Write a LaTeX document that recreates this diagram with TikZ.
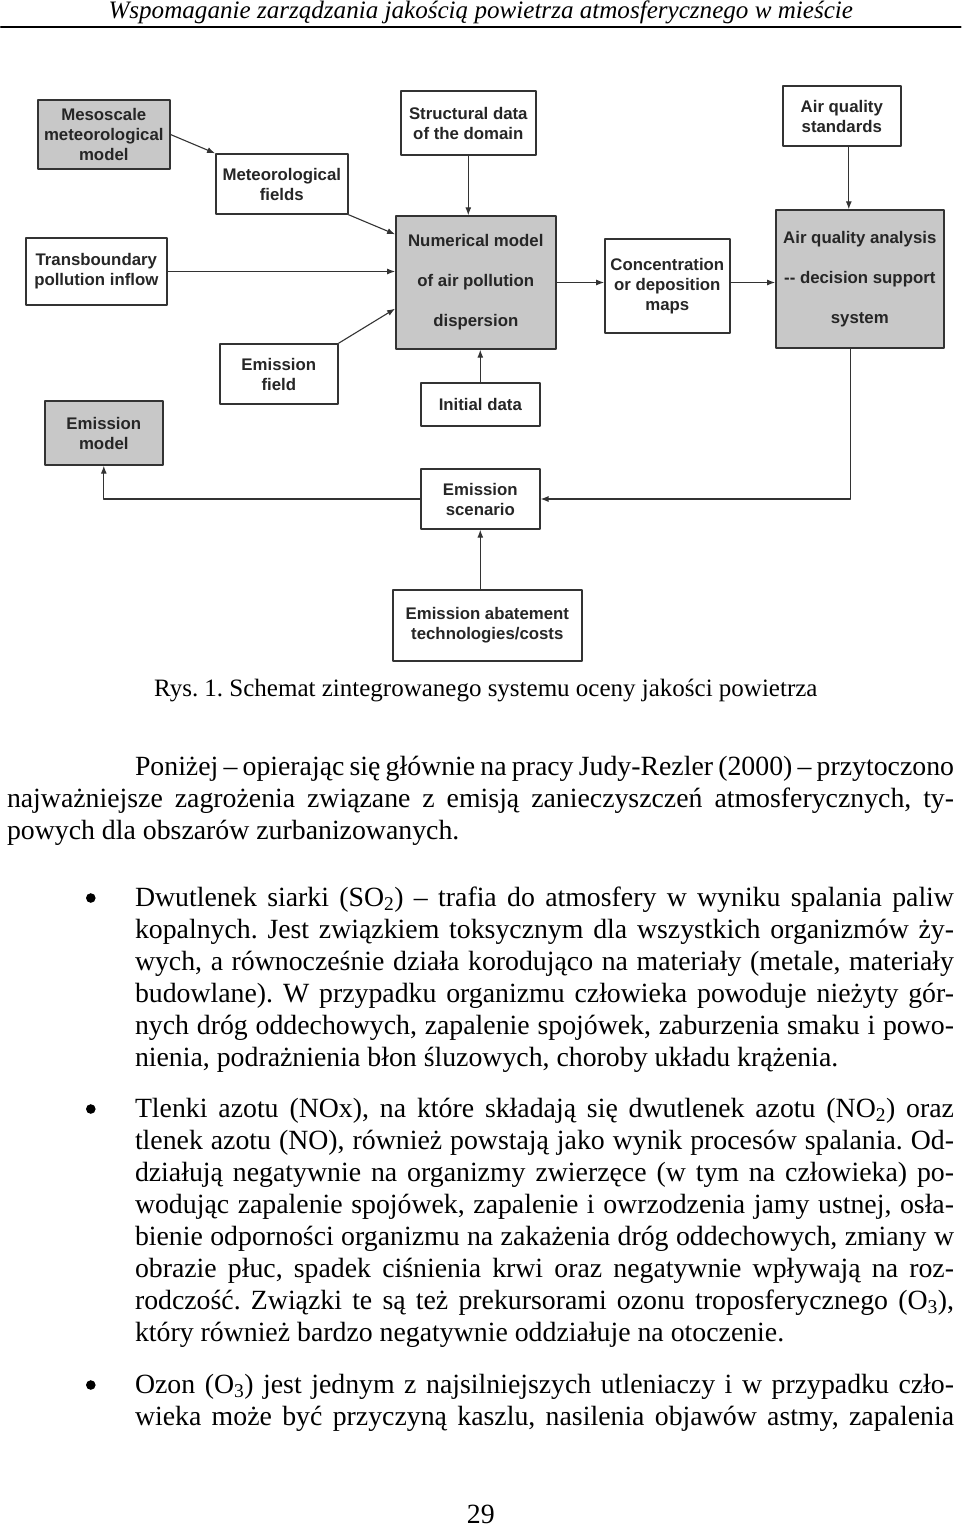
\documentclass[tikz,border=0pt]{standalone}
\usepackage{fontspec}
\setmainfont{Liberation Serif}
\setsansfont{Liberation Sans}
\usetikzlibrary{arrows.meta,calc}
\definecolor{schInk}{HTML}{262626}
\definecolor{schFill}{HTML}{C8C8C8}
\definecolor{schLine}{HTML}{333333}
\frenchspacing
\newcommand\bodyfont{\fontsize{27.8}{32}\selectfont}
\newcommand\jline[2]{\hbox to #1{#2}}

\begin{document}
\begin{tikzpicture}[x=1pt,y=-1pt,>=Latex,line cap=round,line join=round]
\path[fill=white] (0,0) rectangle (960,1528);
\tikzset{box/.style={draw=schLine,line width=1.4pt,fill=white,text=schInk,font=\sffamily\bfseries\fontsize{16.8}{20}\selectfont,align=center,inner sep=0pt},shade/.style={box,fill=schFill},wide/.style={font=\sffamily\bfseries\fontsize{16.8}{40}\selectfont},link/.style={draw=schLine,line width=1.1pt,-{Latex[length=8pt,width=6pt]}},prose/.style={inner sep=0pt,font=\bodyfont,anchor=base west}}
% page head
\node[anchor=base,inner sep=0pt,font=\itshape\fontsize{25.1}{28}\selectfont] (head) at (480,19) {Wspomaganie zarządzania jakością powietrza atmosferycznego w mieście};
\draw[line width=1.6pt] (0,27) -- (960,27);
% scheme boxes
\node[shade,minimum width=132pt,minimum height=69pt] (meso) at (103,134.5) {Mesoscale\\meteorological\\model};
\node[box,minimum width=132pt,minimum height=60pt] (metf) at (281,184) {Meteorological\\fields};
\node[box,minimum width=135pt,minimum height=64pt] (struct) at (467.5,123) {Structural data\\of the domain};
\node[box,minimum width=141pt,minimum height=67pt] (trans) at (95.5,271.5) {Transboundary\\pollution inflow};
\node[shade,wide,minimum width=160pt,minimum height=133pt] (numer) at (475,282.5) {Numerical model\\of air pollution\\dispersion};
\node[box,minimum width=125pt,minimum height=94pt] (conc) at (666.5,286) {Concentration\\or deposition\\maps};
\node[box,minimum width=118pt,minimum height=60pt] (aqstd) at (841,116) {Air quality\\standards};
\node[shade,wide,minimum width=168pt,minimum height=138pt] (aqan) at (859,279) {Air quality analysis\\-{}- decision support\\system};
\node[box,minimum width=118pt,minimum height=60pt] (emf) at (278,374) {Emission\\field};
\node[shade,minimum width=118pt,minimum height=64pt] (emm) at (103,433) {Emission\\model};
\node[box,minimum width=119pt,minimum height=43pt] (init) at (479.5,404.5) {Initial data};
\node[box,minimum width=119pt,minimum height=60pt] (scen) at (479.5,499) {Emission\\scenario};
\node[box,minimum width=189pt,minimum height=71pt] (abat) at (486.5,625.5) {Emission abatement\\technologies/costs};
% links
\draw[link] (meso.east) -- (metf.north west);
\draw[link] (metf.south east) -- ([yshift=-19pt]numer.north west);
\draw[link] (trans.east) -- (trans.east -| numer.west);
\draw[link] (struct.south) -- (struct.south |- numer.north);
\draw[link] (emf.north east) -- ([yshift=41pt]numer.south west);
\draw[link] (init.north) -- (init.north |- numer.south);
\draw[link] (scen.south |- abat.north) -- (scen.south);
\draw[link] (scen.west) -| (emm.south);
\draw[link] ([xshift=-9pt]aqan.south) |- (scen.east);
\draw[link] (numer.east) -- (numer.east -| conc.west);
\draw[link] (numer.east -| conc.east) -- (numer.east -| aqan.west);
\draw[link] ([xshift=7pt]aqstd.south) -- ([xshift=7pt]aqstd.south |- aqan.north);
% caption and text
\node[anchor=base,inner sep=0pt,font=\fontsize{25}{30}\selectfont] (cap) at (485,696) {Rys. 1. Schemat zintegrowanego systemu oceny jakości powietrza};
\node[prose] (p1a) at (134,775) {\jline{819pt}{Poniżej – opierając się głównie na pracy Judy-Rezler (2000) – przytoczono}};
\node[prose] (p1b) at (6,807) {\jline{947pt}{najważniejsze zagrożenia związane z emisją zanieczyszczeń atmosferycznych, ty-}};
\node[prose] (p1c) at (6,839) {powych dla obszarów zurbanizowanych.};
% bullet one
\fill (90,898) circle (4.8pt);
\node[prose] (b1a) at (134,906) {\jline{819pt}{Dwutlenek siarki (SO\textsubscript{2}) – trafia do atmosfery w wyniku spalania paliw}};
\node[prose] (b1b) at (134,938) {\jline{819pt}{kopalnych. Jest związkiem toksycznym dla wszystkich organizmów ży-}};
\node[prose] (b1c) at (134,970) {\jline{819pt}{wych, a równocześnie działa korodująco na materiały (metale, materiały}};
\node[prose] (b1d) at (134,1002) {\jline{819pt}{budowlane). W przypadku organizmu człowieka powoduje nieżyty gór-}};
\node[prose] (b1e) at (134,1034) {\jline{819pt}{nych dróg oddechowych, zapalenie spojówek, zaburzenia smaku i powo-}};
\node[prose] (b1f) at (134,1066) {nienia, podrażnienia błon śluzowych, choroby układu krążenia.};
% bullet two
\fill (90,1109) circle (4.8pt);
\node[prose] (b2a) at (134,1117) {\jline{819pt}{Tlenki azotu (NOx), na które składają się dwutlenek azotu (NO\textsubscript{2}) oraz}};
\node[prose] (b2b) at (134,1149) {\jline{819pt}{tlenek azotu (NO), również powstają jako wynik procesów spalania. Od-}};
\node[prose] (b2c) at (134,1181) {\jline{819pt}{działują negatywnie na organizmy zwierzęce (w tym na człowieka) po-}};
\node[prose] (b2d) at (134,1213) {\jline{819pt}{wodując zapalenie spojówek, zapalenie i owrzodzenia jamy ustnej, osła-}};
\node[prose] (b2e) at (134,1245) {\jline{819pt}{bienie odporności organizmu na zakażenia dróg oddechowych, zmiany w}};
\node[prose] (b2f) at (134,1277) {\jline{819pt}{obrazie płuc, spadek ciśnienia krwi oraz negatywnie wpływają na roz-}};
\node[prose] (b2g) at (134,1309) {\jline{819pt}{rodczość. Związki te są też prekursorami ozonu troposferycznego (O\textsubscript{3}),}};
\node[prose] (b2h) at (134,1341) {który również bardzo negatywnie oddziałuje na otoczenie.};
% bullet three
\fill (90,1385) circle (4.8pt);
\node[prose] (b3a) at (134,1393) {\jline{819pt}{Ozon (O\textsubscript{3}) jest jednym z najsilniejszych utleniaczy i w przypadku czło-}};
\node[prose] (b3b) at (134,1425) {\jline{819pt}{wieka może być przyczyną kaszlu, nasilenia objawów astmy, zapalenia}};
\node[anchor=base,inner sep=0pt,font=\bodyfont] (pnum) at (480,1523) {29};
\end{tikzpicture}
\end{document}
